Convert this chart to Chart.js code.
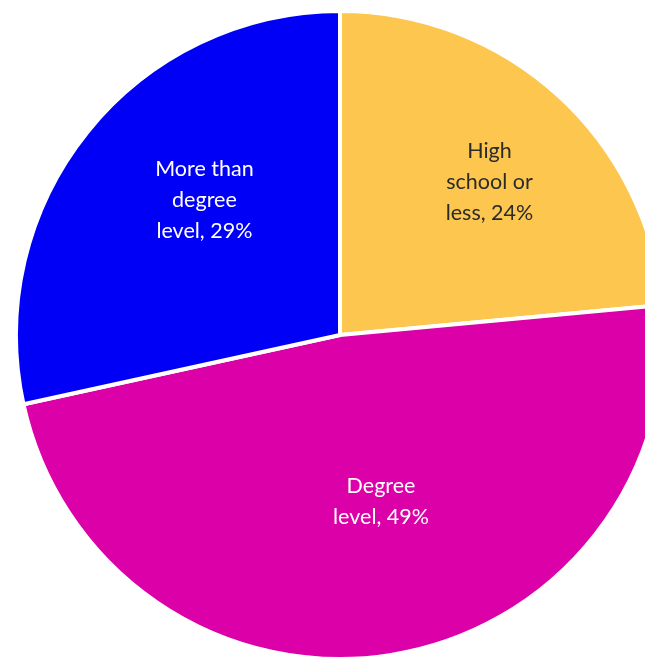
<!DOCTYPE html>
<html lang="en">
<head>
  <meta charset="UTF-8" />
  <title>Education level</title>
  <script src="https://cdn.jsdelivr.net/npm/chart.js"></script>
  <style>
    html, body { margin: 0; padding: 0; background: #fff; overflow: hidden; }
    body { width: 645px; height: 658px; position: relative; }
    #wrap { position: absolute; left: 14px; top: 9px; width: 652px; height: 652px; }
  </style>
</head>
<body>
  <div id="wrap"><canvas id="pie"></canvas></div>

  <script>
    const categories = ["High school or less", "Degree level", "More than degree level"];
    const shares = [24, 49, 29];
    const sliceLabels = [
      ["High", "school or", "less, 24%"],
      ["Degree", "level, 49%"],
      ["More than", "degree", "level, 29%"]
    ];
    const colors = ['#FDC64F', '#DB00A8', '#0000F7'];
    const textColors = ['#2b2b2b', '#ffffff', '#ffffff'];

    // where along the radius each label sits, and a small angle nudge (degrees)
    const labelPos = [{ r: 0.66, a: 2 }, { r: 0.53, a: -5 }, { r: 0.59, a: 6 }];

    const sliceText = {
      id: 'sliceText',
      afterDatasetsDraw(chart) {
        const ctx = chart.ctx;
        const arcs = chart.getDatasetMeta(0).data;
        ctx.save();
        ctx.font = '400 21.5px "Lato", "Open Sans", sans-serif';
        ctx.textAlign = 'center';
        ctx.textBaseline = 'middle';
        arcs.forEach((arc, i) => {
          const p = labelPos[i];
          const mid = (arc.startAngle + arc.endAngle) / 2 + p.a * Math.PI / 180;
          const r = arc.outerRadius * p.r;
          const x = arc.x + Math.cos(mid) * r;
          const y = arc.y + Math.sin(mid) * r;
          const lines = sliceLabels[i];
          const lh = 31;
          ctx.fillStyle = textColors[i];
          lines.forEach((t, j) => {
            ctx.fillText(t, x, y + (j - (lines.length - 1) / 2) * lh);
          });
        });
        ctx.restore();
      }
    };

    new Chart(document.getElementById('pie'), {
      type: 'pie',
      data: {
        labels: categories,
        datasets: [{
          data: shares,
          backgroundColor: colors,
          borderColor: '#ffffff',
          borderWidth: 4
        }]
      },
      options: {
        responsive: true,
        maintainAspectRatio: false,
        animation: false,
        layout: { padding: 0 },
        plugins: {
          legend: { display: false },
          tooltip: { enabled: false }
        }
      },
      plugins: [sliceText]
    });
  </script>
</body>
</html>
